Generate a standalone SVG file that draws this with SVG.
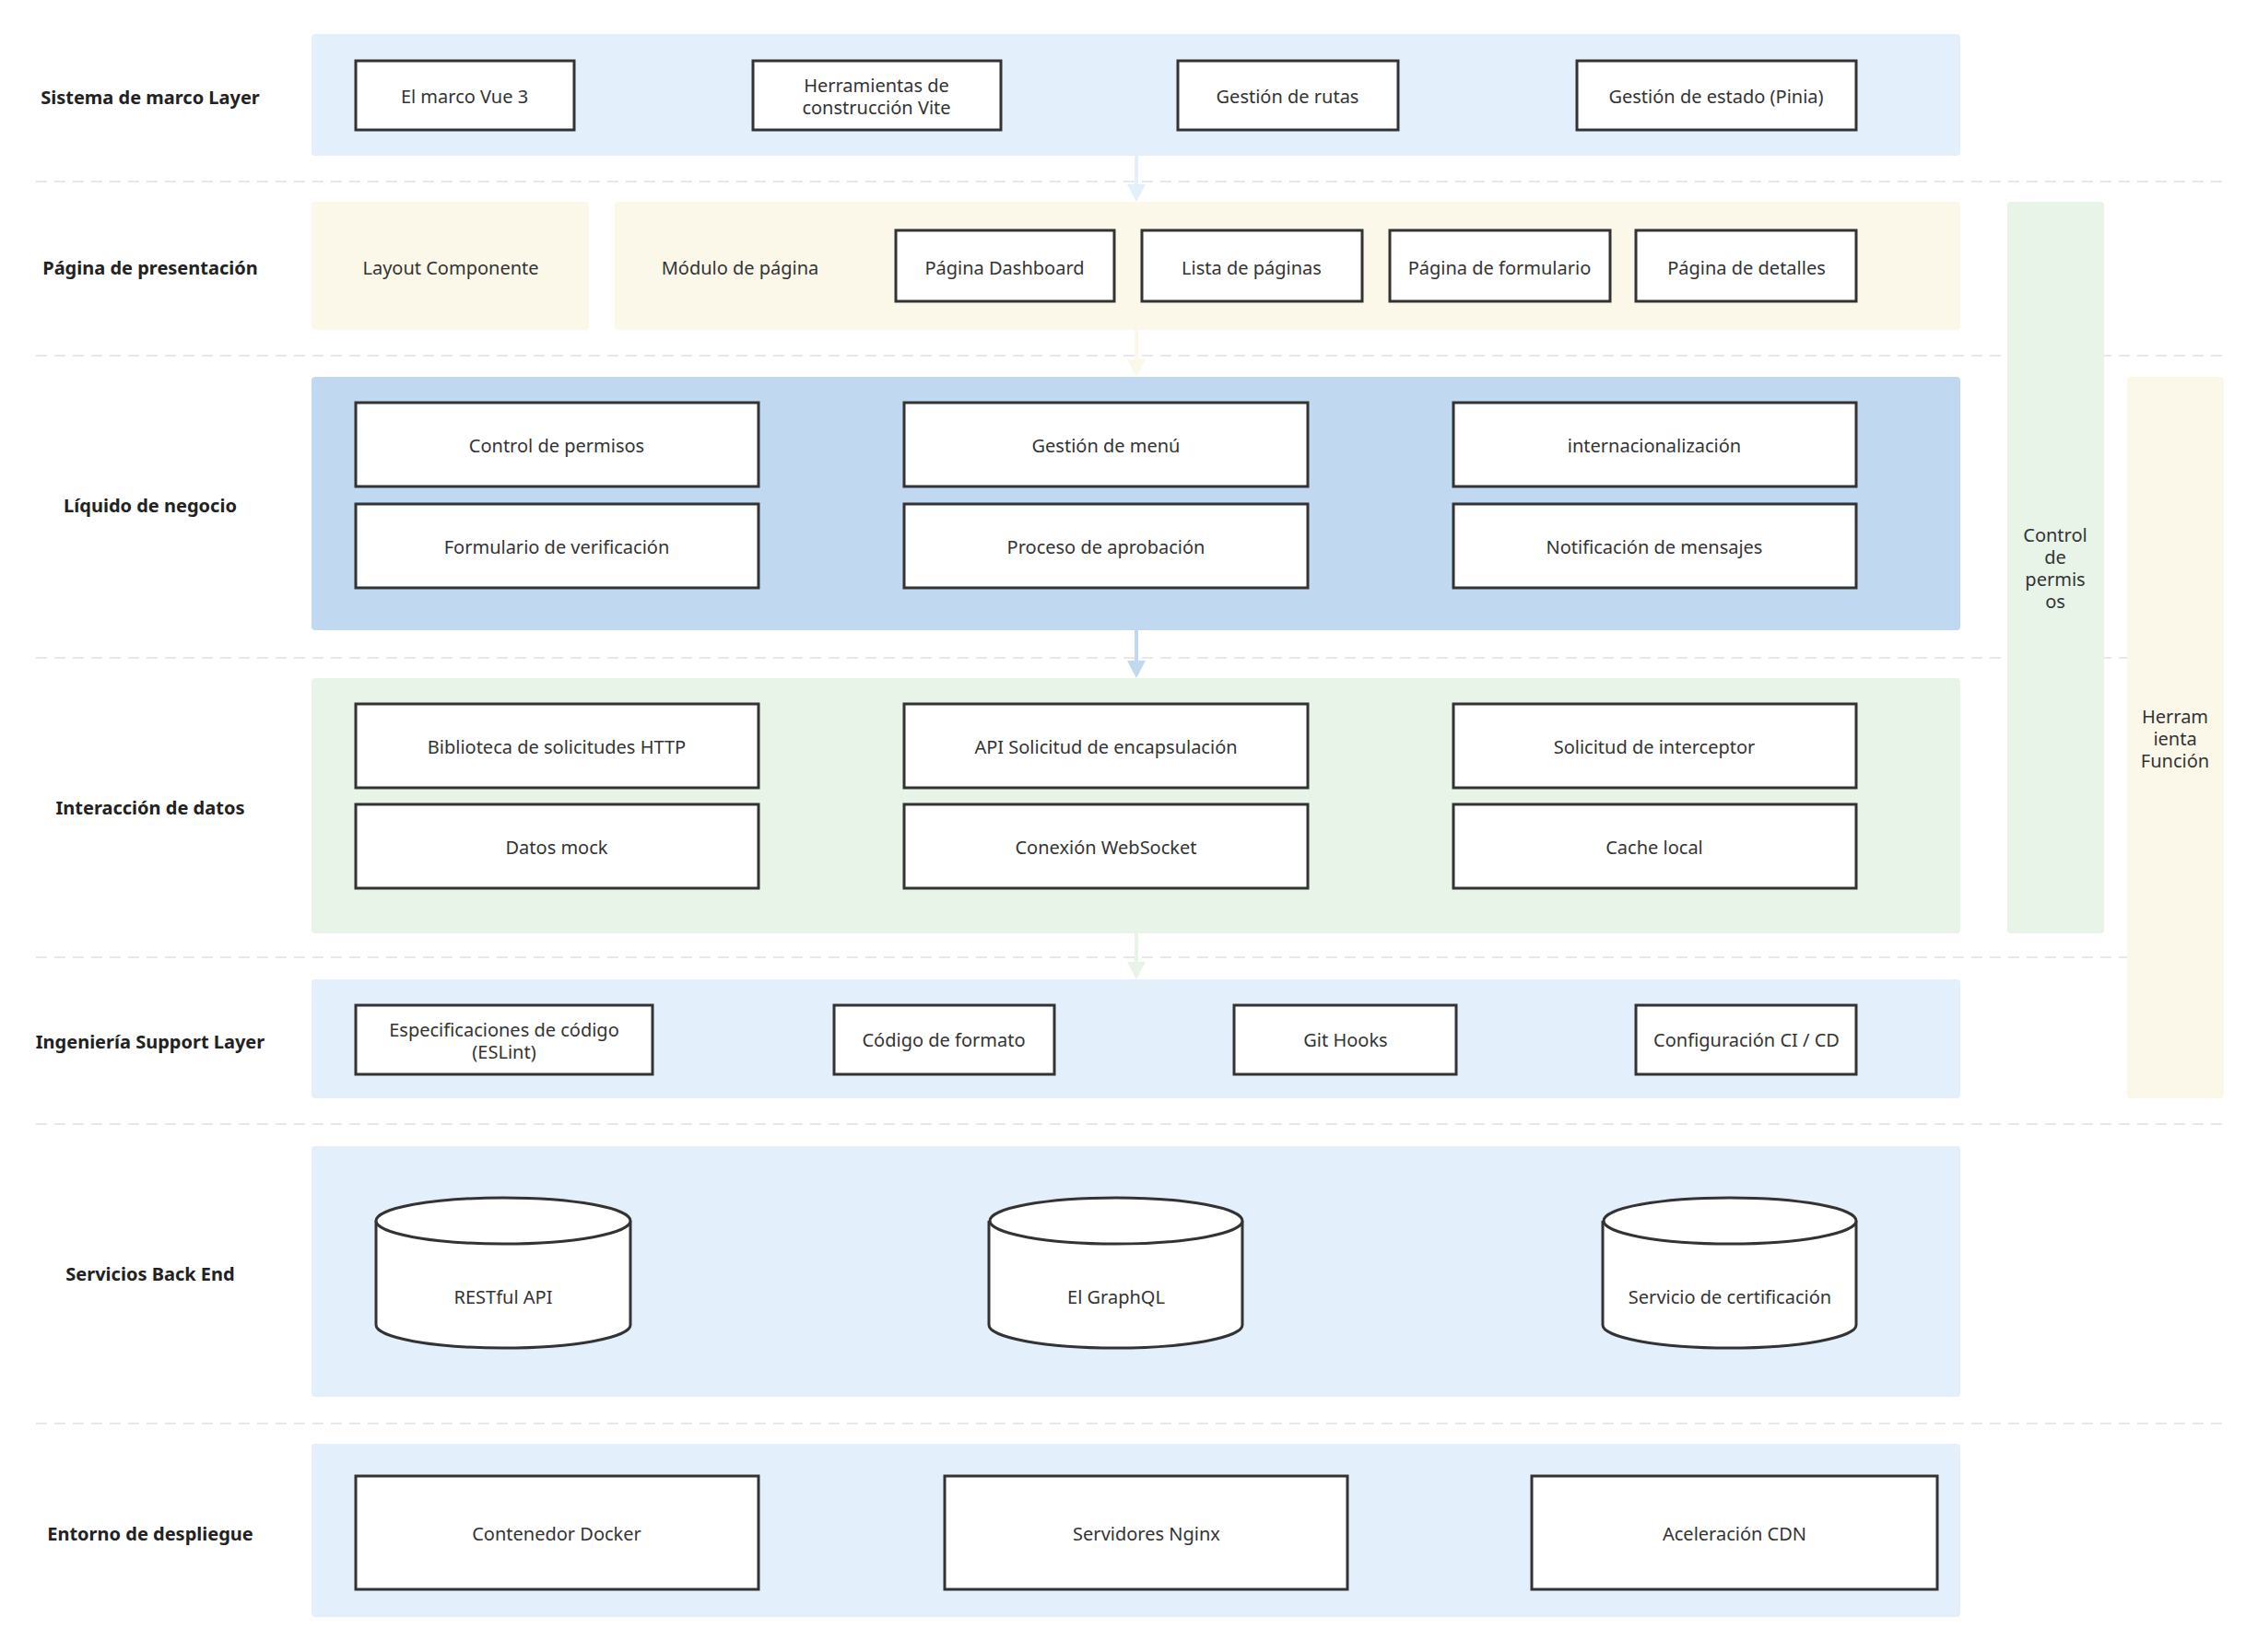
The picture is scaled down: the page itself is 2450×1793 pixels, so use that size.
<svg xmlns="http://www.w3.org/2000/svg" width="2450" height="1793" viewBox="0 0 2450 1793">
<style>
text{font-family:"Noto Sans","Open Sans",sans-serif;font-size:20px;fill:#333;text-anchor:middle;dominant-baseline:central}
.lbl{font-weight:bold;fill:#222}
.b{fill:#fff;stroke:#333;stroke-width:3}
.sep{stroke:#e8e8e8;stroke-width:2;stroke-dasharray:12 8}
</style>
<rect width="2450" height="1793" fill="#fff"/>
<g id="separators">
<line class="sep" x1="39" y1="197" x2="2414" y2="197"/>
<line class="sep" x1="39" y1="386" x2="2414" y2="386"/>
<line class="sep" x1="39" y1="714" x2="2414" y2="714"/>
<line class="sep" x1="39" y1="1039" x2="2414" y2="1039"/>
<line class="sep" x1="39" y1="1220" x2="2414" y2="1220"/>
<line class="sep" x1="39" y1="1545" x2="2414" y2="1545"/>
</g>
<g id="panels">
<rect x="338" y="37" width="1789" height="132" rx="4" fill="#e3f0fc"/>
<rect x="338" y="219" width="301" height="139" rx="4" fill="#fbf8ea"/>
<rect x="667" y="219" width="1460" height="139" rx="4" fill="#fbf8ea"/>
<rect x="338" y="409" width="1789" height="275" rx="4" fill="#c0d8f0"/>
<rect x="338" y="736" width="1789" height="277" rx="4" fill="#e7f4e7"/>
<rect x="338" y="1063" width="1789" height="129" rx="4" fill="#e3f0fc"/>
<rect x="338" y="1244" width="1789" height="272" rx="4" fill="#e3f0fc"/>
<rect x="338" y="1567" width="1789" height="188" rx="4" fill="#e3f0fc"/>
</g>
<g id="row-labels" class="lbl">
<text class="lbl" x="163" y="105">Sistema de marco Layer</text>
<text class="lbl" x="163" y="290">Página de presentación</text>
<text class="lbl" x="163" y="548">Líquido de negocio</text>
<text class="lbl" x="163" y="876">Interacción de datos</text>
<text class="lbl" x="163" y="1130">Ingeniería Support Layer</text>
<text class="lbl" x="163" y="1382">Servicios Back End</text>
<text class="lbl" x="163" y="1664">Entorno de despliegue</text>
</g>
<g id="connectors">
<line x1="1233" y1="169" x2="1233" y2="200" stroke="#e3f0fc" stroke-width="4"/><polygon points="1223,200 1243,200 1233,219" fill="#e3f0fc"/>
<line x1="1233" y1="358" x2="1233" y2="390" stroke="#fbf8ea" stroke-width="4"/><polygon points="1223,390 1243,390 1233,409" fill="#fbf8ea"/>
<line x1="1233" y1="684" x2="1233" y2="717" stroke="#c0d8f0" stroke-width="4"/><polygon points="1223,717 1243,717 1233,736" fill="#c0d8f0"/>
<line x1="1233" y1="1013" x2="1233" y2="1044" stroke="#e7f4e7" stroke-width="4"/><polygon points="1223,1044 1243,1044 1233,1063" fill="#e7f4e7"/>
</g>
<g id="n-l1">
<rect class="b" x="386" y="66" width="237" height="75"/><text x="504" y="104">El marco Vue 3</text>
<rect class="b" x="817" y="66" width="269" height="75"/><text x="951" y="92">Herramientas de</text><text x="951" y="116">construcción Vite</text>
<rect class="b" x="1278" y="66" width="239" height="75"/><text x="1397" y="104">Gestión de rutas</text>
<rect class="b" x="1711" y="66" width="303" height="75"/><text x="1862" y="104">Gestión de estado (Pinia)</text>
</g>
<g id="n-l2">
<text x="489" y="290">Layout Componente</text>
<text x="803" y="290">Módulo de página</text>
<rect class="b" x="972" y="250" width="237" height="77"/><text x="1090" y="290">Página Dashboard</text>
<rect class="b" x="1239" y="250" width="239" height="77"/><text x="1358" y="290">Lista de páginas</text>
<rect class="b" x="1508" y="250" width="239" height="77"/><text x="1627" y="290">Página de formulario</text>
<rect class="b" x="1775" y="250" width="239" height="77"/><text x="1895" y="290">Página de detalles</text>
</g>
<g id="n-l3">
<rect class="b" x="386" y="437" width="437" height="91"/><text x="604" y="483">Control de permisos</text>
<rect class="b" x="981" y="437" width="438" height="91"/><text x="1200" y="483">Gestión de menú</text>
<rect class="b" x="1577" y="437" width="437" height="91"/><text x="1795" y="483">internacionalización</text>
<rect class="b" x="386" y="547" width="437" height="91"/><text x="604" y="593">Formulario de verificación</text>
<rect class="b" x="981" y="547" width="438" height="91"/><text x="1200" y="593">Proceso de aprobación</text>
<rect class="b" x="1577" y="547" width="437" height="91"/><text x="1795" y="593">Notificación de mensajes</text>
</g>
<g id="n-l4">
<rect class="b" x="386" y="764" width="437" height="91"/><text x="604" y="810">Biblioteca de solicitudes HTTP</text>
<rect class="b" x="981" y="764" width="438" height="91"/><text x="1200" y="810">API Solicitud de encapsulación</text>
<rect class="b" x="1577" y="764" width="437" height="91"/><text x="1795" y="810">Solicitud de interceptor</text>
<rect class="b" x="386" y="873" width="437" height="91"/><text x="604" y="919">Datos mock</text>
<rect class="b" x="981" y="873" width="438" height="91"/><text x="1200" y="919">Conexión WebSocket</text>
<rect class="b" x="1577" y="873" width="437" height="91"/><text x="1795" y="919">Cache local</text>
</g>
<g id="n-l5">
<rect class="b" x="386" y="1091" width="322" height="75"/><text x="547" y="1117">Especificaciones de código</text><text x="547" y="1141">(ESLint)</text>
<rect class="b" x="905" y="1091" width="239" height="75"/><text x="1024" y="1128">Código de formato</text>
<rect class="b" x="1339" y="1091" width="241" height="75"/><text x="1460" y="1128">Git Hooks</text>
<rect class="b" x="1775" y="1091" width="239" height="75"/><text x="1895" y="1128">Configuración CI / CD</text>
</g>
<g id="n-l6">
<path class="b" d="M408,1325 L408,1438 A138,25 0 0 0 684,1438 L684,1325"/><ellipse class="b" cx="546" cy="1325" rx="138" ry="25"/><text x="546" y="1407">RESTful API</text>
<path class="b" d="M1073,1325 L1073,1438 A137,25 0 0 0 1348,1438 L1348,1325"/><ellipse class="b" cx="1211" cy="1325" rx="137" ry="25"/><text x="1211" y="1407">El GraphQL</text>
<path class="b" d="M1739,1325 L1739,1438 A137,25 0 0 0 2014,1438 L2014,1325"/><ellipse class="b" cx="1877" cy="1325" rx="137" ry="25"/><text x="1877" y="1407">Servicio de certificación</text>
</g>
<g id="n-l7">
<rect class="b" x="386" y="1602" width="437" height="123"/><text x="604" y="1664">Contenedor Docker</text>
<rect class="b" x="1025" y="1602" width="437" height="123"/><text x="1244" y="1664">Servidores Nginx</text>
<rect class="b" x="1662" y="1602" width="440" height="123"/><text x="1882" y="1664">Aceleración CDN</text>
</g>
<g id="side-permisos">
<rect x="2178" y="219" width="105" height="794" rx="4" fill="#e7f4e7"/>
<text x="2230" y="580">Control</text><text x="2230" y="604">de</text><text x="2230" y="628">permis</text><text x="2230" y="652">os</text>
</g>
<g id="side-herramienta">
<rect x="2308" y="409" width="105" height="783" rx="4" fill="#fbf8ea"/>
<text x="2360" y="777">Herram</text><text x="2360" y="801">ienta</text><text x="2360" y="825">Función</text>
</g>
</svg>
